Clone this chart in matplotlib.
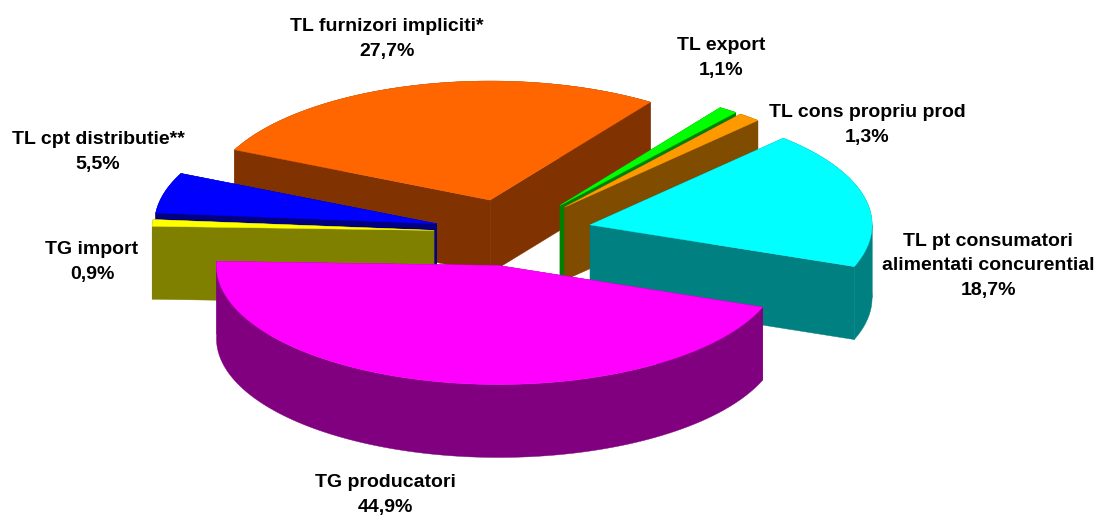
import numpy as np
import matplotlib.pyplot as plt

labels = ['TL furnizori impliciti*', 'TL export', 'TL cons propriu prod',
          'TL pt consumatori\nalimentati concurential', 'TG producatori',
          'TG import', 'TL cpt distributie**']
values = [27.7, 1.1, 1.3, 18.7, 44.9, 0.9, 5.5]
top_colors = ['#FF6600', '#00FF00', '#FF9900', '#00FFFF', '#FF00FF', '#FFFF00', '#0000FF']
side_colors = ['#803300', '#008000', '#804C00', '#008080', '#800080', '#808000', '#000080']
label_pos = [(387, 39), (721, 58), (867, 125), (988, 266), (385, 495), (92, 262), (98, 152)]

# slices are painted back to front
draw_order = [0, 1, 2, 6, 5, 3, 4]
# the original has some perspective, back slices sit a bit further left
nudge = [-2.5, -1, -1, -1, 0.5, 0, 0]

CX, CY = 513.5, 232.5
A, B = 282, 119
DEPTH = 73
EXPLODE = 0.2825
START = 205.0


def rim(cx, cy, a0, a1):
    t = np.radians(np.linspace(a0, a1, 200))
    return cx + A * np.cos(t), cy + B * np.sin(t)


def draw_slice(ax, a0, a1, top, side, dx):
    mid = np.radians((a0 + a1) / 2)
    cx = CX + EXPLODE * A * np.cos(mid) + dx
    cy = CY + EXPLODE * B * np.sin(mid)
    x, y = rim(cx, cy, a0, a1)

    # flat cut faces, the one further back first
    faces = sorted([(x[0], y[0]), (x[-1], y[-1])], key=lambda p: p[1])
    for px, py in faces:
        ax.fill([cx, px, px, cx], [cy, py, py + DEPTH, cy + DEPTH],
                color=side, lw=0.3)
    # outer wall, split where the rim turns so the silhouette stays straight
    cuts = [a for a in (180, 360) if a0 < a < a1]
    edges = [a0] + cuts + [a1]
    for j in range(len(edges) - 1):
        wx, wy = rim(cx, cy, edges[j], edges[j + 1])
        ax.fill(np.r_[wx, wx[::-1]], np.r_[wy, wy[::-1] + DEPTH], color=side, lw=0.3)
    # top
    ax.fill(np.r_[cx, x], np.r_[cy, y], color=top, lw=0.3)


fig = plt.figure(figsize=(10.94, 5.16), dpi=100)
ax = fig.add_axes([0, 0, 1, 1])
ax.set_xlim(0, 1094)
ax.set_ylim(516, 0)
ax.axis('off')

shares = np.array(values) / sum(values) * 360
starts = START + np.r_[0, np.cumsum(shares)[:-1]]

for i in draw_order:
    draw_slice(ax, starts[i], starts[i] + shares[i], top_colors[i], side_colors[i], nudge[i])

for i in range(len(labels)):
    txt = labels[i] + '\n' + str(values[i]).replace('.', ',') + '%'
    ax.text(label_pos[i][0], label_pos[i][1], txt, ha='center', va='center',
            fontsize=14, fontweight='bold', family='Liberation Sans',
            color='black', linespacing=1.56)

plt.savefig('out.png', dpi=100)
